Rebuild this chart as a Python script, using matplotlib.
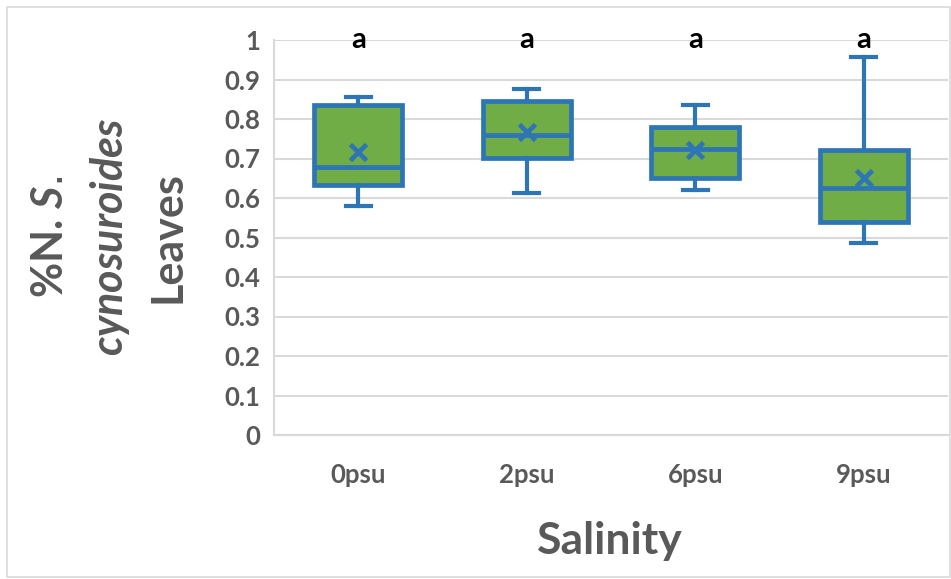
import matplotlib.pyplot as plt
from matplotlib.patches import Rectangle

# salinity treatments and box statistics
labels = ["0psu", "2psu", "6psu", "9psu"]
whislo = [0.580, 0.612, 0.620, 0.485]
q1 = [0.633, 0.702, 0.651, 0.540]
med = [0.679, 0.760, 0.723, 0.625]
q3 = [0.836, 0.846, 0.780, 0.722]
whishi = [0.856, 0.876, 0.835, 0.958]
means = [0.717, 0.766, 0.722, 0.651]
letters = ["a", "a", "a", "a"]

blue = "#2E75B6"
green = "#70AD47"
grey = "#595959"

plt.rcParams["font.family"] = "Lato"
plt.rcParams["mathtext.fontset"] = "custom"
plt.rcParams["mathtext.it"] = "Lato:bold:italic"

fig = plt.figure(figsize=(9.51, 5.79), dpi=100)
ax = fig.add_axes([274 / 951, 1 - 435 / 579, 674 / 951, 395 / 579])

# figure border
fig.patches.append(Rectangle((7 / 951, 2 / 579), 943 / 951, 570 / 579,
                             transform=fig.transFigure, fill=False,
                             edgecolor="#D9D9D9", linewidth=1.2))

stats = []
for i in range(len(labels)):
    stats.append({"whislo": whislo[i], "q1": q1[i], "med": med[i],
                  "q3": q3[i], "whishi": whishi[i], "mean": means[i],
                  "fliers": []})

pos = list(range(1, len(labels) + 1))
ax.bxp(stats, positions=pos, widths=0.52, capwidths=0.15, patch_artist=True,
       showmeans=True, showfliers=False,
       boxprops=dict(facecolor=green, edgecolor=blue, linewidth=3.4),
       medianprops=dict(color=blue, linewidth=3.4),
       whiskerprops=dict(color=blue, linewidth=3.0),
       capprops=dict(color=blue, linewidth=3.0),
       meanprops=dict(marker="x", markeredgecolor=blue, markersize=12,
                      markeredgewidth=3.4))

for p, t in zip(pos, letters):
    ax.text(p, 1.0, t, ha="center", va="center", fontsize=21,
            fontweight="bold", color="black", clip_on=False)

ax.set_xlim(0.5, 4.5)
ax.set_ylim(0, 1)
ax.set_yticks([i / 10 for i in range(11)])
ax.set_yticklabels(["0", "0.1", "0.2", "0.3", "0.4", "0.5", "0.6", "0.7",
                    "0.8", "0.9", "1"])
ax.set_xticks(pos)
ax.set_xticklabels(labels)
ax.grid(axis="y", color="#D9D9D9", linewidth=1.5)
ax.set_axisbelow(True)
for s in ["top", "right"]:
    ax.spines[s].set_visible(False)
for s in ["left", "bottom"]:
    ax.spines[s].set_color("#D9D9D9")
    ax.spines[s].set_linewidth(1.5)
ax.tick_params(length=0, labelsize=18.5, colors=grey, pad=10)
ax.tick_params(axis="x", pad=20)
for lab in ax.get_xticklabels() + ax.get_yticklabels():
    lab.set_fontweight("bold")

# axis titles
fig.text(610 / 951, 1 - 541 / 579, "Salinity", ha="center", va="center",
         fontsize=32, fontweight="bold", color=grey)
yc = 1 - 237 / 579
fig.text(50 / 951, yc, r"%N. $\mathit{S.}$", rotation=90, ha="center",
         va="center", fontsize=31, fontweight="bold", color=grey)
fig.text(110 / 951, yc, r"$\mathit{cynosuroides}$", rotation=90, ha="center",
         va="center", fontsize=31, fontweight="bold", color=grey)
fig.text(167 / 951, yc, "Leaves", rotation=90, ha="center", va="center",
         fontsize=31, fontweight="bold", color=grey)

fig.savefig("out.png", dpi=100)
